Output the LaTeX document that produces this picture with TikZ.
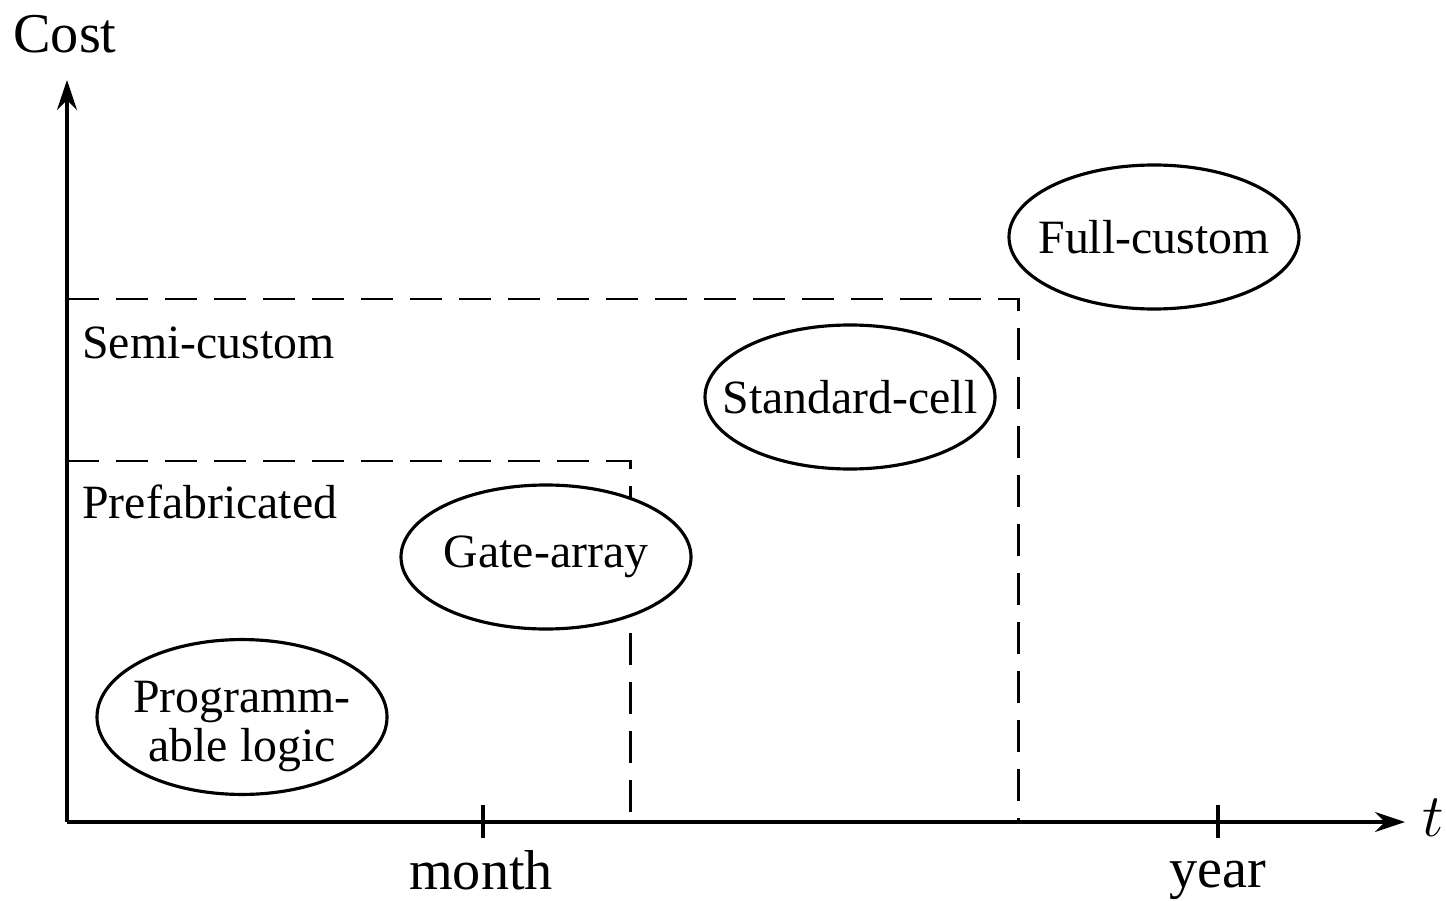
\documentclass[tikz,border=0pt]{standalone}
\usepackage{fontspec}
\setmainfont{Liberation Serif}
\usepackage{tikz}
\usetikzlibrary{shapes}
\usetikzlibrary{positioning}
\usetikzlibrary{arrows.meta}
\usepackage{xcolor}

\newcommand{\nowidth}[1]{\makebox[0pt]{#1}}

\tikzset{
  lbl/.style={font=\fontsize{13.6}{14}\selectfont},
  axlbl/.style={font=\fontsize{16}{18}\selectfont},
  style box/.style={ellipse,draw,fill=white,line width=.9pt,minimum width=2.9cm,minimum height=1.44cm,inner sep=0pt,align=center,lbl},
  bound/.style={dashed,line width=.85pt,dash pattern=on .32cm off .17cm}
}

\begin{document}
\begin{tikzpicture}
\useasboundingbox (0,0) rectangle (14.46,9);
\coordinate (o) at (.67,.78);
\coordinate (ytop) at (.67,8.2);
\coordinate (xend) at (14.05,.78);
\draw[line width=.9pt,-{Stealth[length=.3cm,width=.2cm]}] (o)--(ytop);
\draw[line width=.9pt,-{Stealth[length=.3cm,width=.2cm]}] (o)--(xend);
\node[axlbl] (cost) at (.65,8.66) {Cost};
\node[axlbl] (t) at (14.33,.82) {$t$};
% ticks
\coordinate (m) at (4.83,.78);
\coordinate (y) at (12.18,.78);
\draw[line width=.9pt] (4.83,.62)--(4.83,.95);
\draw[line width=.9pt] (12.18,.62)--(12.18,.95);
\node[axlbl] (month) at (4.81,.3) {month};
\node[axlbl] (year) at (12.18,.2) {year};
% regions
\coordinate (s1) at (.67,6.01);
\coordinate (s2) at (10.18,6.01);
\coordinate (s3) at (10.18,.78);
\coordinate (p1) at (.67,4.39);
\coordinate (p2) at (6.30,4.39);
\coordinate (p3) at (6.30,.78);
\draw[bound] (s1)--(s2)--(s3);
\draw[bound] (p1)--(p2)--(p3);
\node[lbl,anchor=west] (semi) at (.70,5.57) {Semi-custom};
\node[lbl,anchor=west] (pref) at (.70,3.98) {Prefabricated};
% styles
\node[style box] (full) at (11.54,6.63) {\nowidth{Full-custom}};
\node[style box] (std) at (8.50,5.03) {\nowidth{Standard-cell}};
\node[style box] (gate) at (5.46,3.43) {\nowidth{Gate-array}};
\node[style box] (prog) at (2.42,1.83) {\rule{0pt}{.5cm}\nowidth{Programm-}\\\nowidth{able logic}};
\end{tikzpicture}
\end{document}
